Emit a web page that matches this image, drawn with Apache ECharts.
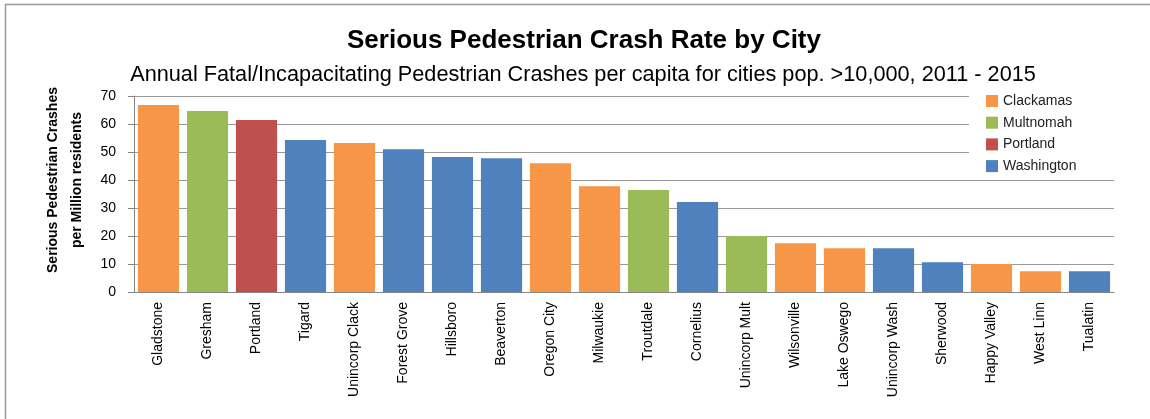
<!DOCTYPE html>
<html>
<head>
<meta charset="utf-8">
<script src="https://cdn.jsdelivr.net/npm/echarts@6/dist/echarts.min.js"></script>
<style>
  html, body { margin: 0; padding: 0; background: #fff; }
  #chart { width: 1150px; height: 419px; }
</style>
</head>
<body>
<div id="chart"></div>
<script>
// cities, sorted by rate
const cities = ['Gladstone', 'Gresham', 'Portland', 'Tigard', 'Unincorp Clack', 'Forest Grove',
  'Hillsboro', 'Beaverton', 'Oregon City', 'Milwaukie', 'Troutdale', 'Cornelius',
  'Unincorp Mult', 'Wilsonville', 'Lake Oswego', 'Unincorp Wash', 'Sherwood',
  'Happy Valley', 'West Linn', 'Tualatin']
const rates = [66.8, 64.6, 61.4, 54.3, 53.2, 51.0, 48.2, 47.8, 46.0, 37.8, 36.4, 32.1,
  20.0, 17.4, 15.6, 15.6, 10.6, 10.0, 7.4, 7.4]
const county = ['Clackamas', 'Multnomah', 'Portland', 'Washington', 'Clackamas', 'Washington',
  'Washington', 'Washington', 'Clackamas', 'Clackamas', 'Multnomah', 'Washington',
  'Multnomah', 'Clackamas', 'Clackamas', 'Washington', 'Washington',
  'Clackamas', 'Clackamas', 'Washington']
const counties = ['Clackamas', 'Multnomah', 'Portland', 'Washington']
const countyColors = ['#F79646', '#9BBB59', '#C0504D', '#4F81BD']
const yTicks = [0, 10, 20, 30, 40, 50, 60, 70]

const font = "'Liberation Sans', Arial, sans-serif"
const chart = echarts.init(document.getElementById('chart'))

// one series per county, stacked so each city gets one full-width bar
const series = counties.map((c, i) => ({
  name: c,
  type: 'bar',
  stack: 'city',
  barCategoryGap: '16%',
  itemStyle: { color: countyColors[i] },
  data: rates.map((v, k) => (county[k] === c ? v : null)),
  animation: false
}))

chart.setOption({
  textStyle: { fontFamily: font },
  title: [{
    text: 'Serious Pedestrian Crash Rate by City',
    left: 579,
    textAlign: 'center',
    top: 23,
    textStyle: { fontSize: 26, fontWeight: 'bold', color: '#000', fontFamily: font }
  }, {
    text: 'Annual Fatal/Incapacitating Pedestrian Crashes per capita for cities pop. >10,000, 2011 - 2015',
    left: 578,
    textAlign: 'center',
    top: 59,
    textStyle: { fontSize: 21.7, fontWeight: 'normal', color: '#000', fontFamily: font }
  }],
  legend: {
    orient: 'vertical',
    left: 969,
    top: 88,
    padding: [6, 60, 2, 17],
    backgroundColor: '#fff',
    itemWidth: 12,
    itemHeight: 12,
    itemGap: 7.7,
    icon: 'rect',
    data: counties,
    textStyle: { fontSize: 14, color: '#222', fontFamily: font }
  },
  graphic: [{
    type: 'polyline',
    shape: { points: [[5.5, 419], [5.5, 4.5], [1150, 4.5]] },
    style: { stroke: '#9a9a9a', lineWidth: 1.5, fill: null }
  }, {
    type: 'text',
    x: 65,
    y: 180,
    rotation: Math.PI / 2,
    style: {
      text: 'Serious Pedestrian Crashes\nper Million residents',
      font: 'bold 14px ' + font,
      fill: '#000',
      align: 'center',
      verticalAlign: 'middle',
      lineHeight: 24
    }
  }],
  grid: { left: 134, right: 36, top: 96, bottom: 127 },
  xAxis: {
    type: 'category',
    data: cities,
    axisLine: { lineStyle: { color: '#868686' } },
    axisTick: { length: 5, lineStyle: { color: '#868686' } },
    axisLabel: { rotate: 90, fontSize: 14, color: '#000', margin: 10, interval: 0, fontFamily: font }
  },
  yAxis: {
    type: 'value',
    min: yTicks[0],
    max: yTicks[yTicks.length - 1],
    interval: 10,
    axisLine: { show: true, lineStyle: { color: '#868686' } },
    axisTick: { show: true, length: 6, lineStyle: { color: '#868686' } },
    axisLabel: { fontSize: 14, color: '#000', margin: 18, fontFamily: font },
    splitLine: { lineStyle: { color: '#9a9a9a' } }
  },
  series: series
})
</script>
</body>
</html>
